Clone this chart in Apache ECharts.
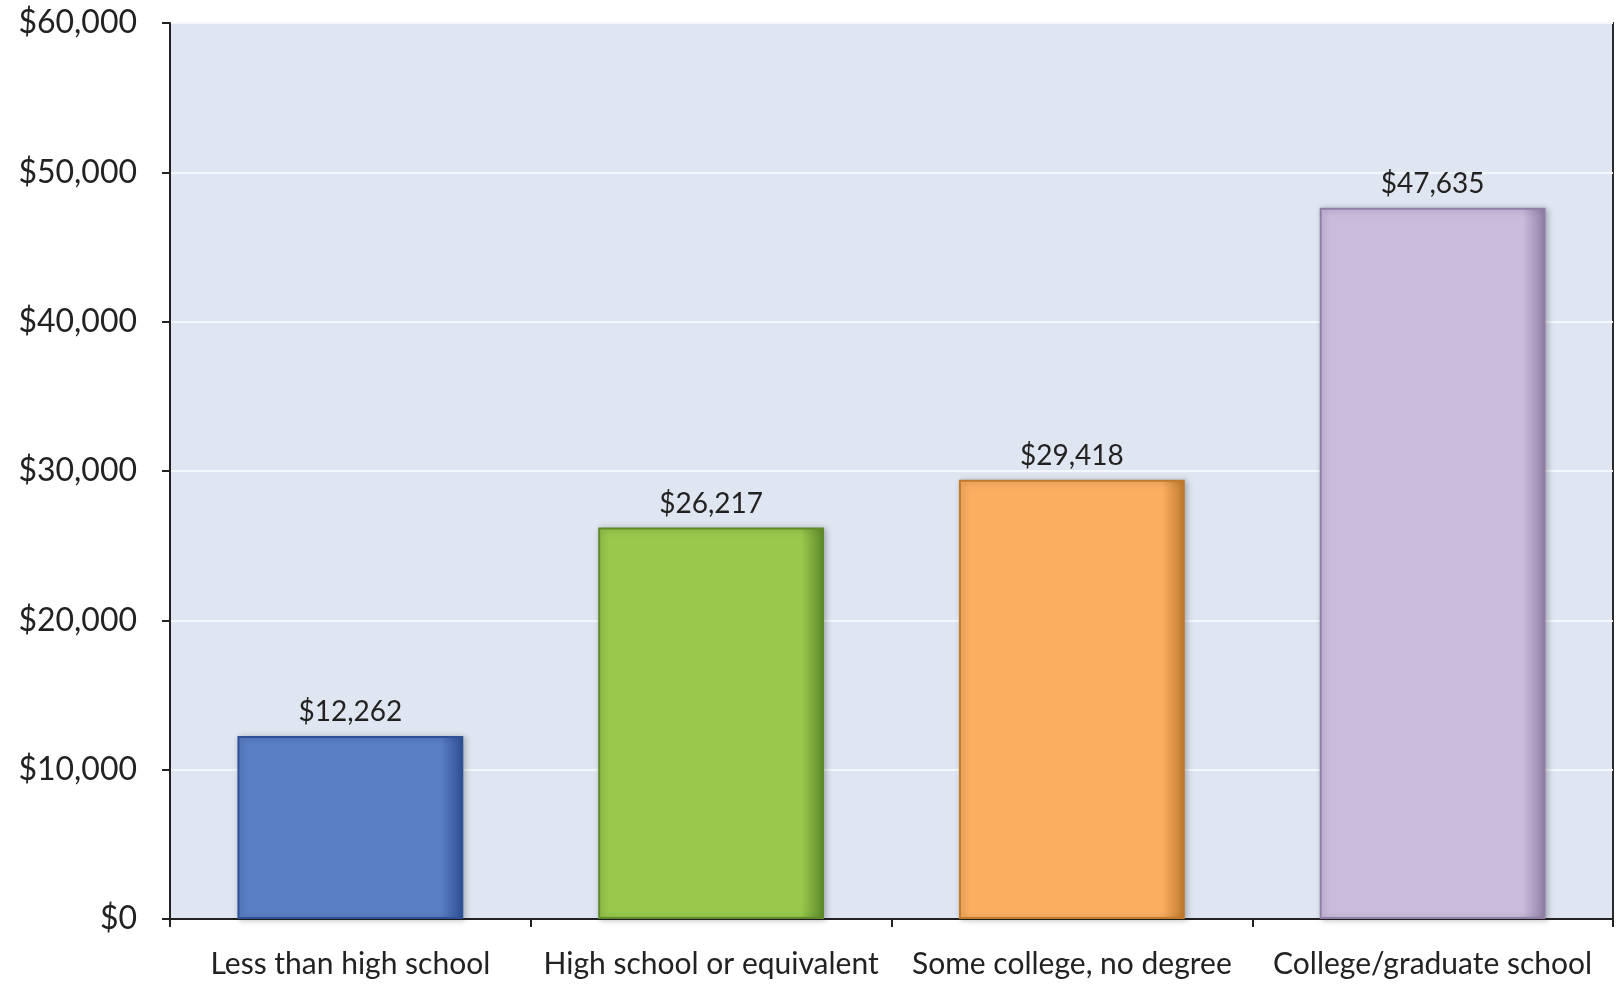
<!DOCTYPE html>
<html><head><meta charset="utf-8">
<script src="https://cdn.jsdelivr.net/npm/echarts@6/dist/echarts.min.js"></script>
<style>html,body{margin:0;padding:0;background:#fff}#c{width:1619px;height:987px}</style>
</head><body><div id="c"></div>
<script>
const categories = ["Less than high school", "High school or equivalent", "Some college, no degree", "College/graduate school"];
const values = [12262, 26217, 29418, 47635];
const barColors = ["#5a7fc5", "#98c84c", "#fbae60", "#cabbdd"];
const barEdges = ["#2f4f96", "#5d8a2a", "#c07a2c", "#8f7fa6"];
const yTicks = [0, 10000, 20000, 30000, 40000, 50000, 60000];

const fmt = v => "$" + v.toLocaleString("en-US");
const font = "Lato, 'Noto Sans', sans-serif";

const chart = echarts.init(document.getElementById("c"));
chart.setOption({
  animation: false,
  grid: {left: 170, right: 6, top: 23, bottom: 68, show: true, backgroundColor: "#dfe6f1", borderColor: "#2a2a2a", borderWidth: 2},
  xAxis: {
    type: "category", data: categories,
    axisLine: {lineStyle: {color: "#222", width: 2}},
    axisTick: {show: true, alignWithLabel: false, length: 8, lineStyle: {color: "#222", width: 2}},
    axisLabel: {color: "#222", fontSize: 30, fontFamily: font, margin: 30, interval: 0}
  },
  yAxis: {
    type: "value", min: yTicks[0], max: yTicks[yTicks.length - 1], interval: 10000,
    axisLine: {show: true, lineStyle: {color: "#222", width: 2}},
    axisTick: {show: true, length: 8, lineStyle: {color: "#222", width: 2}},
    splitLine: {lineStyle: {color: "#f4f7fb", width: 2}},
    axisLabel: {color: "#222", fontSize: 32, fontFamily: font, margin: 33, formatter: v => fmt(v)}
  },
  series: [{
    type: "bar", barWidth: "62.6%",
    data: values.map((v, i) => ({
      value: v,
      itemStyle: {
        color: {type: "linear", x: 0, y: 0, x2: 1, y2: 0, colorStops: [
          {offset: 0, color: barColors[i]}, {offset: 0.9, color: barColors[i]}, {offset: 1, color: barEdges[i]}]},
        borderColor: barEdges[i], borderWidth: 2,
        shadowColor: "rgba(0,0,0,0.25)", shadowBlur: 6, shadowOffsetX: 2, shadowOffsetY: 1
      }
    })),
    label: {show: true, position: "top", distance: 10, color: "#222", fontSize: 28, fontFamily: font, formatter: p => fmt(p.value)}
  }]
});
</script></body></html>
